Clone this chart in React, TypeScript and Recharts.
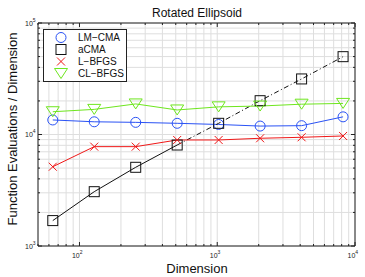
import { LineChart, Line, XAxis, YAxis, Legend, ReferenceLine } from 'recharts';

const dims = [64, 128, 256, 512, 1024, 2048, 4096, 8192];
const lmcma = [13500, 13000, 12850, 12600, 12300, 11900, 12000, 14400];
const acma = [1690, 3070, 5080, 8050, 12600, 20100, 31500, 49900];
const lbfgs = [5140, 7780, 7780, 8930, 8930, 9250, 9440, 9700];
const clbfgs = [16000, 16800, 18800, 16600, 17700, 18000, 18700, 19000];

const xMajor = [100, 1000, 10000];
const yMajor = [1000, 10000, 100000];
const xTicks = [50, 60, 70, 80, 90, 100, 200, 300, 400, 500, 600, 700, 800, 900, 1000, 2000, 3000, 4000, 5000, 6000, 7000, 8000, 9000, 10000];
const yTicks = [1000, 2000, 3000, 4000, 5000, 6000, 7000, 8000, 9000, 10000, 20000, 30000, 40000, 50000, 60000, 70000, 80000, 90000, 100000];

const BLUE = '#2a52f5';
const RED = '#f01818';
const GREEN = '#6ee61e';
const BLACK = '#111';
const AXIS = '#222';
const GRID = '#dedede';
const FONT = '"Liberation Sans", Arial, sans-serif';

const data = dims.map((d, i) => ({
  dim: d,
  lmcma: lmcma[i],
  acmaSolid: i <= 3 ? acma[i] : null,
  acmaDash: i >= 3 ? acma[i] : null,
  lbfgs: lbfgs[i],
  clbfgs: clbfgs[i],
}));

const exp = (v: number) => Math.round(Math.log10(v));
const isMajor = (v: number, list: number[]) => list.includes(v);

const Marker = ({ kind, cx, cy, color }: { kind: string; cx: number; cy: number; color: string }) => {
  if (kind === 'circle') return <circle cx={cx} cy={cy} r={5} fill="none" stroke={color} strokeWidth={1} />;
  if (kind === 'square') return <rect x={cx - 5} y={cy - 5} width={10} height={10} fill="none" stroke={color} strokeWidth={1} />;
  if (kind === 'x')
    return (
      <path d={`M${cx - 4},${cy - 4}L${cx + 4},${cy + 4}M${cx - 4},${cy + 4}L${cx + 4},${cy - 4}`} stroke={color} strokeWidth={1} fill="none" />
    );
  return <path d={`M${cx - 6.5},${cy - 5}L${cx + 6.5},${cy - 5}L${cx},${cy + 5}Z`} fill="none" stroke={color} strokeWidth={1} />;
};

const makeDot = (kind: string, color: string, from = 0) => (p: any) => {
  if (p.cx == null || p.cy == null || p.value == null || p.index < from) return <g key={`d-${kind}-${p.index}`} />;
  return (
    <g key={`d-${kind}-${p.index}`}>
      <Marker kind={kind} cx={p.cx} cy={p.cy} color={color} />
    </g>
  );
};

const BottomTick = ({ x, y, payload }: any) => {
  const v = payload.value;
  const major = isMajor(v, xMajor);
  return (
    <g>
      <line x1={x} x2={x} y1={y} y2={y - (major ? 4 : 2)} stroke={AXIS} />
      {major && (
        <text x={x - 7.5} y={y + 12} fontSize={7} fill="#222" fontFamily={FONT}>
          10<tspan dy={-4} fontSize={5}>{exp(v)}</tspan>
        </text>
      )}
    </g>
  );
};

const TopTick = ({ x, y, payload }: any) => {
  const major = isMajor(payload.value, xMajor);
  return <line x1={x} x2={x} y1={y} y2={y + (major ? 4 : 2)} stroke={AXIS} />;
};

const LeftTick = ({ x, y, payload }: any) => {
  const v = payload.value;
  const major = isMajor(v, yMajor);
  return (
    <g>
      <line x1={x} x2={x + (major ? 4 : 2)} y1={y} y2={y} stroke={AXIS} />
      {major && (
        <text x={x - 13} y={y + 2.5} fontSize={7} fill="#222" fontFamily={FONT}>
          10<tspan dy={-4} fontSize={5}>{exp(v)}</tspan>
        </text>
      )}
    </g>
  );
};

const RightTick = ({ x, y, payload }: any) => {
  const major = isMajor(payload.value, yMajor);
  return <line x1={x} x2={x - (major ? 4 : 2)} y1={y} y2={y} stroke={AXIS} />;
};

const legendItems = [
  { name: 'LM−CMA', kind: 'circle', color: BLUE },
  { name: 'aCMA', kind: 'square', color: BLACK },
  { name: 'L−BFGS', kind: 'x', color: RED },
  { name: 'CL−BFGS', kind: 'triangle', color: GREEN },
];

const LegendBox = () => (
  <svg width={84} height={53} style={{ display: 'block' }}>
    <rect x={0.5} y={0.5} width={83} height={52} fill="#fff" stroke={AXIS} />
    {legendItems.map((it, i) => (
      <g key={it.name}>
        <Marker kind={it.kind} cx={18} cy={8.5 + i * 12} color={it.color} />
        <text x={35} y={12 + i * 12} fontSize={10} fontFamily={FONT} fill="#111">
          {it.name}
        </text>
      </g>
    ))}
  </svg>
);

export default function App() {
  return (
    <div style={{ position: 'absolute', left: 0, top: 0, width: 365, height: 277, background: '#fff' }}>
      <LineChart width={365} height={277} data={data} margin={{ top: 22, right: 9, bottom: 30, left: 37 }}>
        {xTicks.map((v) => (
          <ReferenceLine key={`gx${v}`} x={v} stroke={GRID} strokeWidth={1} />
        ))}
        {yTicks.map((v) => (
          <ReferenceLine key={`gy${v}`} y={v} stroke={GRID} strokeWidth={1} />
        ))}
        <XAxis
          dataKey="dim"
          type="number"
          scale="log"
          domain={[50, 10000]}
          allowDataOverflow
          ticks={xTicks}
          interval={0}
          height={1}
          tickSize={0}
          tickMargin={0}
          tickLine={false}
          tick={BottomTick}
          axisLine={{ stroke: AXIS }}
        />
        <XAxis
          xAxisId="top"
          orientation="top"
          dataKey="dim"
          type="number"
          scale="log"
          domain={[50, 10000]}
          allowDataOverflow
          ticks={xTicks}
          interval={0}
          height={1}
          tickSize={0}
          tickMargin={0}
          tickLine={false}
          tick={TopTick}
          axisLine={{ stroke: AXIS }}
        />
        <YAxis
          type="number"
          scale="log"
          domain={[1000, 100000]}
          allowDataOverflow
          ticks={yTicks}
          interval={0}
          width={1}
          tickSize={0}
          tickMargin={0}
          tickLine={false}
          tick={LeftTick}
          axisLine={{ stroke: AXIS }}
        />
        <YAxis
          yAxisId="right"
          orientation="right"
          type="number"
          scale="log"
          domain={[1000, 100000]}
          allowDataOverflow
          ticks={yTicks}
          interval={0}
          width={1}
          tickSize={0}
          tickMargin={0}
          tickLine={false}
          tick={RightTick}
          axisLine={{ stroke: AXIS }}
        />
        <Line dataKey="lmcma" stroke={BLUE} strokeWidth={1} dot={makeDot('circle', BLUE)} isAnimationActive={false} />
        <Line dataKey="acmaSolid" stroke={BLACK} strokeWidth={1} dot={makeDot('square', BLACK)} isAnimationActive={false} />
        <Line
          dataKey="acmaDash"
          stroke={BLACK}
          strokeWidth={1}
          strokeDasharray="5 2.5 1 2.5"
          dot={makeDot('square', BLACK, 4)}
          isAnimationActive={false}
        />
        <Line dataKey="lbfgs" stroke={RED} strokeWidth={1} dot={makeDot('x', RED)} isAnimationActive={false} />
        <Line dataKey="clbfgs" stroke={GREEN} strokeWidth={1} dot={makeDot('triangle', GREEN)} isAnimationActive={false} />
        <Legend
          layout="horizontal"
          verticalAlign="middle"
          align="center"
          content={() => <LegendBox />}
          wrapperStyle={{ position: 'absolute', left: 43, top: 29, width: 84, height: 53 }}
        />
        <text x={197} y={17} textAnchor="middle" fontSize={12} fontFamily={FONT} fill="#111">
          Rotated Ellipsoid
        </text>
        <text x={197} y={273} textAnchor="middle" fontSize={13} fontFamily={FONT} fill="#111">
          Dimension
        </text>
        <text x={16.5} y={129} textAnchor="middle" fontSize={13} fontFamily={FONT} fill="#111" transform="rotate(-90 16.5 129)">
          Function Evaluations / Dimension
        </text>
      </LineChart>
    </div>
  );
}
